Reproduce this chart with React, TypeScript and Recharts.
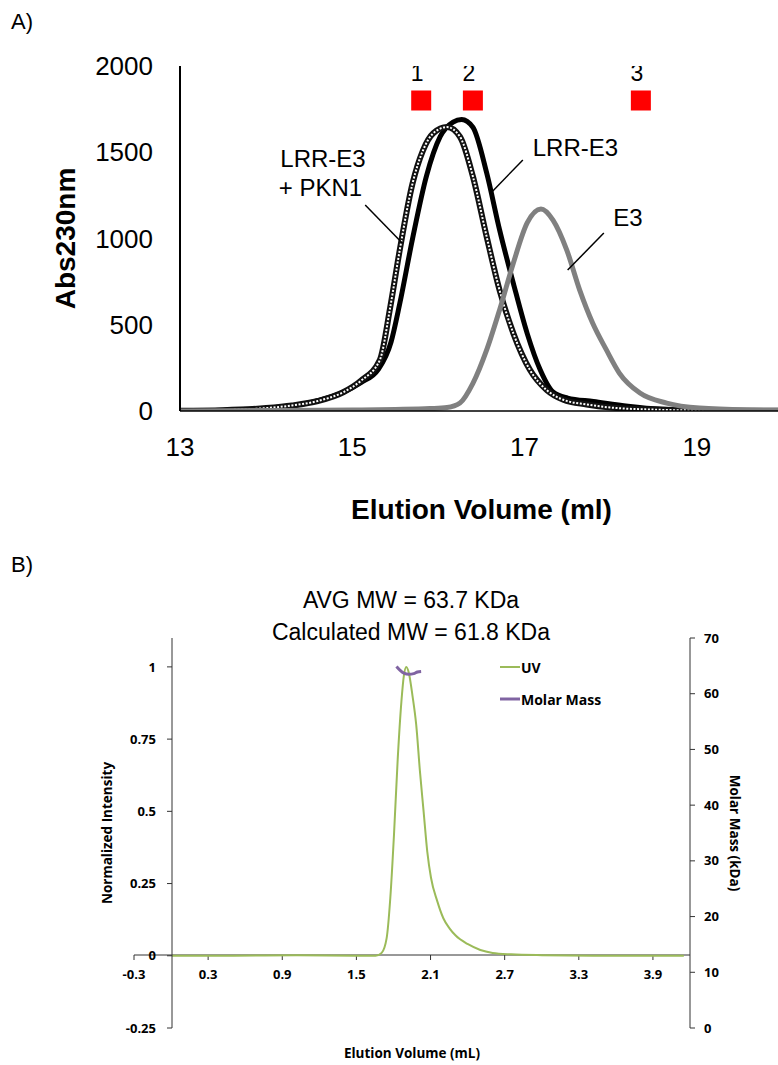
import React from 'react';
import {
  ComposedChart,
  Line,
  XAxis,
  YAxis,
  Scatter,
  ReferenceLine,
  ReferenceDot,
  Legend,
} from 'recharts';

// ---------- Panel A data ----------
const lrrE3Volume = [13.0, 13.5, 14.0, 14.3, 14.6, 14.9, 15.1, 15.3, 15.45, 15.55, 15.7, 15.86, 16.02, 16.17, 16.27, 16.4, 16.56, 16.71, 16.87, 17.03, 17.18, 17.33, 17.5, 17.8, 18.2, 18.6, 19.0, 19.5, 20.0];
const lrrE3Abs = [2, 5, 15, 30, 60, 110, 165, 240, 400, 620, 1000, 1360, 1590, 1675, 1690, 1645, 1380, 1050, 740, 450, 240, 110, 75, 55, 28, 10, 4, 2, 1];

const pkn1Volume = [13.0, 13.5, 14.0, 14.3, 14.6, 14.9, 15.1, 15.32, 15.44, 15.55, 15.7, 15.82, 15.94, 16.1, 16.25, 16.4, 16.56, 16.71, 16.87, 17.06, 17.26, 17.45, 17.72, 18.0, 18.5, 19.0, 20.0];
const pkn1Abs = [2, 5, 17, 32, 58, 110, 175, 296, 600, 930, 1320, 1510, 1610, 1646, 1590, 1360, 1010, 700, 450, 240, 120, 65, 38, 20, 8, 3, 1];

const e3Volume = [13.0, 14.0, 15.0, 15.5, 15.9, 16.1, 16.25, 16.4, 16.56, 16.71, 16.87, 17.03, 17.19, 17.33, 17.49, 17.64, 17.79, 17.95, 18.1, 18.34, 18.65, 19.03, 19.58, 20.0];
const e3Abs = [0, 3, 6, 9, 14, 20, 46, 160, 354, 586, 858, 1090, 1171, 1107, 933, 701, 510, 354, 220, 104, 46, 17, 6, 4];

const fractionVolume = [15.8, 16.4, 18.35];
const fractionAbs = [1800, 1800, 1800];
const fractionLabels = ['1', '2', '3'];

const xTicksA = [13, 15, 17, 19];
const yTicksA = [0, 500, 1000, 1500, 2000];

// ---------- Panel B data ----------
const uvVolume = [0, 0.5, 1.0, 1.5, 1.65, 1.7, 1.74, 1.77, 1.8, 1.83, 1.86, 1.88, 1.9, 1.92, 1.95, 1.98, 2.01, 2.04, 2.07, 2.1, 2.15, 2.2, 2.25, 2.3, 2.4, 2.5, 2.6, 2.75, 3.0, 3.5, 4.15];
const uvIntensity = [0, 0, 0.002, 0, 0, 0.01, 0.06, 0.2, 0.42, 0.68, 0.88, 0.97, 1.0, 0.98, 0.9, 0.8, 0.64, 0.5, 0.36, 0.27, 0.19, 0.13, 0.095, 0.07, 0.04, 0.02, 0.01, 0.005, 0.002, 0, 0];

const molarVolume = [1.82, 1.85, 1.88, 1.92, 1.96, 1.99, 2.02];
const molarMass = [64.9, 64.2, 63.7, 63.5, 63.6, 63.9, 64.0];

const legendOrder = ['UV', 'Molar Mass'];

const xTicksB = [-0.3, 0.3, 0.9, 1.5, 2.1, 2.7, 3.3, 3.9];
const yTicksLeftB = [-0.25, 0, 0.25, 0.5, 0.75, 1];
const yTicksRightB = [0, 10, 20, 30, 40, 50, 60, 70];

const lrrE3Data = lrrE3Volume.map((v, i) => ({ volume: v, abs: lrrE3Abs[i] }));
const pkn1Data = pkn1Volume.map((v, i) => ({ volume: v, abs: pkn1Abs[i] }));
const e3Data = e3Volume.map((v, i) => ({ volume: v, abs: e3Abs[i] }));
const fractionData = fractionVolume.map((v, i) => ({ volume: v, abs: fractionAbs[i], label: fractionLabels[i] }));
const uvData = uvVolume.map((v, i) => ({ volume: v, value: uvIntensity[i] }));
const molarData = molarVolume.map((v, i) => ({ volume: v, value: molarMass[i] }));

const FractionMarker = (props: any) => {
  const { cx, cy, payload } = props;
  return (
    <g>
      <rect x={cx - 10} y={cy - 10} width={20} height={20} fill="#FF0000" />
      <text x={cx - 4} y={cy - 20} textAnchor="middle" fontSize={23} fill="#000">
        {payload.label}
      </text>
    </g>
  );
};

const annLabel = (value: string) => ({
  value,
  position: 'center' as const,
  fontSize: 24,
  fill: '#000',
});

const renderLegend = (props: any) => {
  const payload = [...(props.payload || [])].sort(
    (a: any, b: any) => legendOrder.indexOf(a.value) - legendOrder.indexOf(b.value)
  );
  return (
    <div>
      {payload.map((entry: any) => (
        <div key={entry.value} style={{ display: 'flex', alignItems: 'center', height: 32 }}>
          <svg width={20} height={4} style={{ display: 'block' }}>
            <line x1={0} y1={2} x2={20} y2={2} stroke={entry.color} strokeWidth={entry.value === 'UV' ? 2 : 3} />
          </svg>
          <span style={{ marginLeft: 1, fontFamily: '"Open Sans"', fontWeight: 700, fontSize: 14, color: '#000' }}>
            {entry.value}
          </span>
        </div>
      ))}
    </div>
  );
};

const tickA = { fontSize: 26, fill: '#000' };
const tickB = { fontSize: 13, fill: '#000', fontWeight: 700 };

export default function App() {
  return (
    <div
      style={{
        position: 'absolute',
        left: 0,
        top: 0,
        width: 778,
        height: 1065,
        overflow: 'hidden',
        background: '#fff',
        fontFamily: '"Liberation Sans", Arial, sans-serif',
      }}
    >
      <div style={{ position: 'absolute', left: 11, top: 10, fontSize: 22, lineHeight: '24px' }}>A)</div>

      {/* Panel A */}
      <div style={{ position: 'absolute', left: 0, top: 0 }}>
        <ComposedChart width={800} height={540} margin={{ top: 66, right: 17, bottom: 9, left: 60 }}>
          <XAxis
            type="number"
            dataKey="volume"
            domain={[13, 20]}
            ticks={xTicksA}
            allowDataOverflow
            tickSize={0}
            tickMargin={27}
            axisLine={{ stroke: '#000', strokeWidth: 1.5 }}
            tick={tickA}
            height={120}
            label={{
              value: 'Elution Volume (ml)',
              position: 'insideBottom',
              offset: 12,
              fontSize: 28,
              fontWeight: 700,
              fill: '#000',
            }}
          />
          <YAxis
            type="number"
            domain={[0, 2000]}
            ticks={yTicksA}
            allowDataOverflow
            width={120}
            tickSize={0}
            tickMargin={27}
            axisLine={{ stroke: '#000', strokeWidth: 2 }}
            tick={tickA}
            label={{
              value: 'Abs230nm',
              angle: -90,
              position: 'insideLeft',
              offset: 5,
              fontSize: 28,
              fontWeight: 700,
              fill: '#000',
              style: { textAnchor: 'middle' },
            }}
          />
          <Line data={lrrE3Data} dataKey="abs" type="monotone" stroke="#000" strokeWidth={5} dot={false} isAnimationActive={false} />
          <Line data={pkn1Data} dataKey="abs" type="monotone" stroke="#111" strokeWidth={6} dot={false} isAnimationActive={false} />
          <Line data={pkn1Data} dataKey="abs" type="monotone" stroke="#fff" strokeWidth={2} strokeDasharray="2 1.6" dot={false} isAnimationActive={false} />
          <Line data={e3Data} dataKey="abs" type="monotone" stroke="#808080" strokeWidth={5} dot={false} isAnimationActive={false} />
          <Scatter data={fractionData} dataKey="abs" shape={<FractionMarker />} isAnimationActive={false} />

          <ReferenceLine segment={[{ x: 15.15, y: 1194 }, { x: 15.58, y: 974 }]} stroke="#000" strokeWidth={1.5} />
          <ReferenceLine segment={[{ x: 16.98, y: 1455 }, { x: 16.62, y: 1270 }]} stroke="#000" strokeWidth={1.5} />
          <ReferenceLine segment={[{ x: 17.92, y: 1032 }, { x: 17.5, y: 817 }]} stroke="#000" strokeWidth={1.5} />

          <ReferenceDot x={14.66} y={1461} r={0} fill="none" stroke="none" label={annLabel('LRR-E3')} />
          <ReferenceDot x={14.63} y={1293} r={0} fill="none" stroke="none" label={annLabel('+ PKN1')} />
          <ReferenceDot x={17.59} y={1530} r={0} fill="none" stroke="none" label={annLabel('LRR-E3')} />
          <ReferenceDot x={18.2} y={1119} r={0} fill="none" stroke="none" label={annLabel('E3')} />
        </ComposedChart>
      </div>

      <div style={{ position: 'absolute', left: 11, top: 553, fontSize: 22, lineHeight: '24px' }}>B)</div>
      <div style={{ position: 'absolute', left: 0, top: 584, width: 822, textAlign: 'center', fontSize: 23, lineHeight: '32px' }}>
        <div>AVG MW = 63.7 KDa</div>
        <div>Calculated MW = 61.8 KDa</div>
      </div>

      {/* Panel B: x axis through zero */}
      <div style={{ position: 'absolute', left: 0, top: 550, fontFamily: '"Open Sans", sans-serif' }}>
        <ComposedChart width={778} height={515} margin={{ top: 88, right: 88, bottom: 0, left: 134 }}>
          <XAxis
            type="number"
            dataKey="volume"
            domain={[-0.3, 4.2]}
            ticks={xTicksB}
            allowDataOverflow
            interval={0}
            tickSize={5}
            tickMargin={10}
            axisLine={{ stroke: '#333', strokeWidth: 1 }}
            tickLine={{ stroke: '#333', strokeWidth: 1 }}
            tick={tickB}
            height={110}
            label={{
              value: 'Elution Volume (mL)',
              position: 'insideBottom',
              offset: 7,
              fontSize: 13.5,
              fontWeight: 700,
              fill: '#000',
            }}
          />
          <YAxis hide domain={[-0.25, 1.1]} />
        </ComposedChart>
      </div>

      {/* Panel B: main plot */}
      <div style={{ position: 'absolute', left: 0, top: 550, fontFamily: '"Open Sans", sans-serif' }}>
        <ComposedChart width={778} height={515} margin={{ top: 88, right: 28, bottom: 37, left: 112 }}>
          <XAxis type="number" dataKey="volume" domain={[0, 4.2]} allowDataOverflow hide />
          <YAxis
            yAxisId="left"
            type="number"
            domain={[-0.25, 1.1]}
            ticks={yTicksLeftB}
            allowDataOverflow
            interval={0}
            width={60}
            tickSize={5}
            tickMargin={11}
            axisLine={{ stroke: '#333', strokeWidth: 1 }}
            tickLine={{ stroke: '#333', strokeWidth: 1 }}
            tick={tickB}
            label={{
              value: 'Normalized Intensity',
              angle: -90,
              position: 'insideLeft',
              offset: -5,
              fontSize: 13.5,
              fontWeight: 700,
              fill: '#000',
              style: { textAnchor: 'middle' },
            }}
          />
          <YAxis
            yAxisId="right"
            orientation="right"
            type="number"
            domain={[0, 70]}
            ticks={yTicksRightB}
            allowDataOverflow
            interval={0}
            width={60}
            tickSize={5}
            tickMargin={9}
            axisLine={{ stroke: '#333', strokeWidth: 1 }}
            tickLine={{ stroke: '#333', strokeWidth: 1 }}
            tick={tickB}
            label={{
              value: 'Molar Mass (kDa)',
              angle: 90,
              position: 'insideRight',
              offset: 15,
              fontSize: 13.5,
              fontWeight: 700,
              fill: '#000',
              style: { textAnchor: 'middle' },
            }}
          />
          <Line yAxisId="left" name="UV" data={uvData} dataKey="value" type="monotone" stroke="#9BBB59" strokeWidth={2} dot={false} isAnimationActive={false} />
          <Line yAxisId="right" name="Molar Mass" data={molarData} dataKey="value" type="monotone" stroke="#8064A2" strokeWidth={3} dot={false} isAnimationActive={false} />
          <Legend
            layout="vertical"
            align="center"
            verticalAlign="middle"
            content={renderLegend}
            wrapperStyle={{ position: 'absolute', left: 500, top: 101, width: 150 }}
          />
        </ComposedChart>
      </div>
    </div>
  );
}
